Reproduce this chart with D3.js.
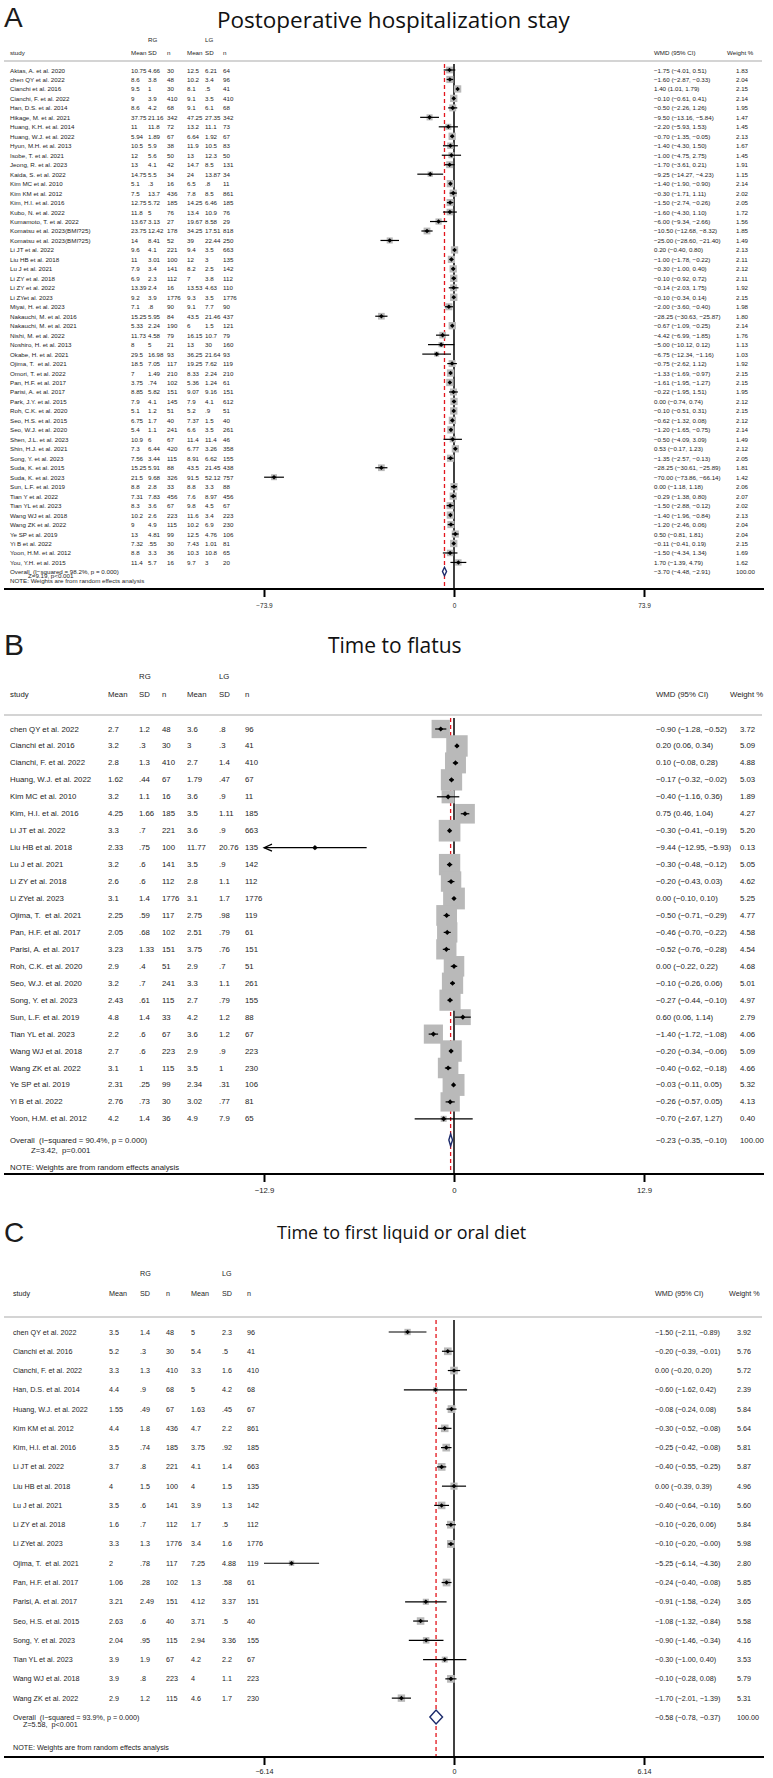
<!DOCTYPE html>
<html>
<head>
<meta charset="utf-8">
<script src="https://cdn.jsdelivr.net/npm/d3@7"></script>
<style>
    html, body { margin: 0; padding: 0; background: #fff; }
    svg text { font-family: "Liberation Sans", Arial, sans-serif; fill: #1c1c1c; }
    svg text.cell { dominant-baseline: central; white-space: pre; }
    svg text.ttl { font-family: "Open Sans", sans-serif; fill: #111; }
</style>
</head>
<body>
<div id="chart"></div>
<script>
// ---------- A: postoperative hospitalization stay ----------
const studiesA = ["Aktas, A. et al. 2020", "chen QY et al. 2022", "Cianchi et al. 2016", "Cianchi, F. et al. 2022",
    "Han, D.S. et al. 2014", "Hikage, M. et al. 2021", "Huang, K.H. et al. 2014", "Huang, W.J. et al. 2022",
    "Hyun, M.H. et al. 2013", "Isobe, T. et al. 2021", "Jeong, R. et al. 2023", "Kaida, S. et al. 2022",
    "Kim MC et al. 2010", "Kim KM et al. 2012", "Kim, H.I. et al. 2016", "Kubo, N. et al. 2022",
    "Kumamoto, T. et al. 2022", "Komatsu et al. 2023(BMI?25)", "Komatsu et al. 2023(BMI?25)", "Li JT et al. 2022",
    "Liu HB et al. 2018", "Lu J et al. 2021", "Li ZY et al. 2018", "Li ZY et al. 2022", "Li ZYet al. 2023",
    "Miyai, H. et al. 2023", "Nakauchi, M. et al. 2016", "Nakauchi, M. et al. 2021", "Nishi, M. et al. 2022",
    "Noshiro, H. et al. 2013", "Okabe, H. et al. 2021", "Ojima, T.  et al. 2021", "Omori, T. et al. 2022",
    "Pan, H.F. et al. 2017", "Parisi, A. et al. 2017", "Park, J.Y. et al. 2015", "Roh, C.K. et al. 2020",
    "Seo, H.S. et al. 2015", "Seo, W.J. et al. 2020", "Shen, J.L. et al. 2023", "Shin, H.J. et al. 2021",
    "Song, Y. et al. 2023", "Suda, K. et al. 2015", "Suda, K. et al. 2023", "Sun, L.F. et al. 2019",
    "Tian Y et al. 2022", "Tian YL et al. 2023", "Wang WJ et al. 2018", "Wang ZK et al. 2022",
    "Ye SP et al. 2019", "Yi B et al. 2022", "Yoon, H.M. et al. 2012", "You, Y.H. et al. 2015"];
const rgA = [["10.75","4.66","30"],["8.6","3.8","48"],["9.5","1","30"],["9","3.9","410"],["8.6","4.2","68"],
    ["37.75","21.16","342"],["11","11.8","72"],["5.94","1.89","67"],["10.5","5.9","38"],["12","5.6","50"],
    ["13","4.1","42"],["14.75","5.5","34"],["5.1",".3","16"],["7.5","13.7","436"],["12.75","5.72","185"],
    ["11.8","5","76"],["13.67","3.13","27"],["23.75","12.42","178"],["14","8.41","52"],["9.6","4.1","221"],
    ["11","3.01","100"],["7.9","3.4","141"],["6.9","2.3","112"],["13.39","2.4","16"],["9.2","3.9","1776"],
    ["7.1",".8","90"],["15.25","5.95","84"],["5.33","2.24","190"],["11.73","4.58","79"],["8","5","21"],
    ["29.5","16.98","93"],["18.5","7.05","117"],["7","1.49","210"],["3.75",".74","102"],["8.85","5.82","151"],
    ["7.9","4.1","145"],["5.1","1.2","51"],["6.75","1.7","40"],["5.4","1.1","241"],["10.9","6","67"],
    ["7.3","6.44","420"],["7.56","3.44","115"],["15.25","5.91","88"],["21.5","9.68","326"],["8.8","2.8","33"],
    ["7.31","7.83","456"],["8.3","3.6","67"],["10.2","2.6","223"],["9","4.9","115"],["13","4.81","99"],
    ["7.32",".55","30"],["8.8","3.3","36"],["11.4","5.7","16"]];
const lgA = [["12.5","6.21","64"],["10.2","3.4","96"],["8.1",".5","41"],["9.1","3.5","410"],["9.1","6.1","68"],
    ["47.25","27.35","342"],["13.2","11.1","73"],["6.64","1.92","67"],["11.9","10.5","83"],["13","12.3","50"],
    ["14.7","8.5","131"],["24","13.87","34"],["6.5",".8","11"],["7.8","8.5","861"],["14.25","6.46","185"],
    ["13.4","10.9","76"],["19.67","8.58","29"],["34.25","17.51","818"],["39","22.44","250"],["9.4","3.5","663"],
    ["12","3","135"],["8.2","2.5","142"],["7","3.8","112"],["13.53","4.63","110"],["9.3","3.5","1776"],
    ["9.1","7.7","90"],["43.5","21.46","437"],["6","1.5","121"],["16.15","10.7","79"],["13","30","160"],
    ["36.25","21.64","93"],["19.25","7.62","119"],["8.33","2.24","210"],["5.36","1.24","61"],["9.07","9.16","151"],
    ["7.9","4.1","612"],["5.2",".9","51"],["7.37","1.5","40"],["6.6","3.5","261"],["11.4","11.4","46"],
    ["6.77","3.26","358"],["8.91","6.62","155"],["43.5","21.45","438"],["91.5","52.12","757"],["8.8","3.3","88"],
    ["7.6","8.97","456"],["9.8","4.5","67"],["11.6","3.4","223"],["10.2","6.9","230"],["12.5","4.76","106"],
    ["7.43","1.01","81"],["10.3","10.8","65"],["9.7","3","20"]];
const wmdA = [-1.75,-1.60,1.40,-0.10,-0.50,-9.50,-2.20,-0.70,-1.40,-1.00,-1.70,-9.25,-1.40,-0.30,-1.50,-1.60,-6.00,
    -10.50,-25.00,0.20,-1.00,-0.30,-0.10,-0.14,-0.10,-2.00,-28.25,-0.67,-4.42,-5.00,-6.75,-0.75,-1.33,-1.61,-0.22,
    0.00,-0.10,-0.62,-1.20,-0.50,0.53,-1.35,-28.25,-70.00,0.00,-0.29,-1.50,-1.40,-1.20,0.50,-0.11,-1.50,1.70];
const loA = [-4.01,-2.87,1.01,-0.61,-2.26,-13.16,-5.93,-1.35,-4.30,-4.75,-3.61,-14.27,-1.90,-1.71,-2.74,-4.30,-9.34,
    -12.68,-28.60,-0.40,-1.78,-1.00,-0.92,-2.03,-0.34,-3.60,-30.63,-1.09,-6.99,-10.12,-12.34,-2.62,-1.69,-1.95,-1.95,
    -0.74,-0.51,-1.32,-1.65,-4.09,-0.17,-2.57,-30.61,-73.86,-1.18,-1.38,-2.88,-1.96,-2.46,-0.81,-0.41,-4.34,-1.39];
const hiA = [0.51,-0.33,1.79,0.41,1.26,-5.84,1.53,-0.05,1.50,2.75,0.21,-4.23,-0.90,1.11,-0.26,1.10,-2.66,
    -8.32,-21.40,0.80,-0.22,0.40,0.72,1.75,0.14,-0.40,-25.87,-0.25,-1.85,0.12,-1.16,1.12,-0.97,-1.27,1.51,
    0.74,0.31,0.08,-0.75,3.09,1.23,-0.13,-25.89,-66.14,1.18,0.80,-0.12,-0.84,0.06,1.81,0.19,1.34,4.79];
const weightA = [1.83,2.04,2.15,2.14,1.95,1.47,1.45,2.13,1.67,1.45,1.91,1.15,2.14,2.02,2.05,1.72,1.56,1.85,1.49,
    2.13,2.11,2.12,2.11,1.92,2.15,1.98,1.80,2.14,1.76,1.13,1.03,1.92,2.15,2.15,1.95,2.12,2.15,2.12,2.14,1.49,
    2.12,2.05,1.81,1.42,2.06,2.07,2.02,2.13,2.04,2.04,2.15,1.69,1.62];
const overallA = [-3.70, -4.48, -2.91];
const hetA = ["98.2%", "0.000", "Z=9.19, p<0.001"];
const ticksA = [-73.9, 0, 73.9];
const tickLabelsA = ["\u221273.9", "0", "73.9"];

// ---------- B: time to flatus ----------
const studiesB = ["chen QY et al. 2022", "Cianchi et al. 2016", "Cianchi, F. et al. 2022", "Huang, W.J. et al. 2022",
    "Kim MC et al. 2010", "Kim, H.I. et al. 2016", "Li JT et al. 2022", "Liu HB et al. 2018", "Lu J et al. 2021",
    "Li ZY et al. 2018", "Li ZYet al. 2023", "Ojima, T.  et al. 2021", "Pan, H.F. et al. 2017",
    "Parisi, A. et al. 2017", "Roh, C.K. et al. 2020", "Seo, W.J. et al. 2020", "Song, Y. et al. 2023",
    "Sun, L.F. et al. 2019", "Tian YL et al. 2023", "Wang WJ et al. 2018", "Wang ZK et al. 2022",
    "Ye SP et al. 2019", "Yi B et al. 2022", "Yoon, H.M. et al. 2012"];
const rgB = [["2.7","1.2","48"],["3.2",".3","30"],["2.8","1.3","410"],["1.62",".44","67"],["3.2","1.1","16"],
    ["4.25","1.66","185"],["3.3",".7","221"],["2.33",".75","100"],["3.2",".6","141"],["2.6",".6","112"],
    ["3.1","1.4","1776"],["2.25",".59","117"],["2.05",".68","102"],["3.23","1.33","151"],["2.9",".4","51"],
    ["3.2",".7","241"],["2.43",".61","115"],["4.8","1.4","33"],["2.2",".6","67"],["2.7",".6","223"],
    ["3.1","1","115"],["2.31",".25","99"],["2.76",".73","30"],["4.2","1.4","36"]];
const lgB = [["3.6",".8","96"],["3",".3","41"],["2.7","1.4","410"],["1.79",".47","67"],["3.6",".9","11"],
    ["3.5","1.11","185"],["3.6",".9","663"],["11.77","20.76","135"],["3.5",".9","142"],["2.8","1.1","112"],
    ["3.1","1.7","1776"],["2.75",".98","119"],["2.51",".79","61"],["3.75",".76","151"],["2.9",".7","51"],
    ["3.3","1.1","261"],["2.7",".79","155"],["4.2","1.2","88"],["3.6","1.2","67"],["2.9",".9","223"],
    ["3.5","1","230"],["2.34",".31","106"],["3.02",".77","81"],["4.9","7.9","65"]];
const wmdB = [-0.90,0.20,0.10,-0.17,-0.40,0.75,-0.30,-9.44,-0.30,-0.20,0.00,-0.50,-0.46,-0.52,0.00,-0.10,-0.27,
    0.60,-1.40,-0.20,-0.40,-0.03,-0.26,-0.70];
const loB = [-1.28,0.06,-0.08,-0.32,-1.16,0.46,-0.41,-12.95,-0.48,-0.43,-0.10,-0.71,-0.70,-0.76,-0.22,-0.26,-0.44,
    0.06,-1.72,-0.34,-0.62,-0.11,-0.57,-2.67];
const hiB = [-0.52,0.34,0.28,-0.02,0.36,1.04,-0.19,-5.93,-0.12,0.03,0.10,-0.29,-0.22,-0.28,0.22,0.06,-0.10,
    1.14,-1.08,-0.06,-0.18,0.05,0.05,1.27];
const weightB = [3.72,5.09,4.88,5.03,1.89,4.27,5.20,0.13,5.05,4.62,5.25,4.77,4.58,4.54,4.68,5.01,4.97,2.79,4.06,
    5.09,4.66,5.32,4.13,0.40];
const overallB = [-0.23, -0.35, -0.10];
const hetB = ["90.4%", "0.000", "Z=3.42,  p=0.001"];
const ticksB = [-12.9, 0, 12.9];
const tickLabelsB = ["\u221212.9", "0", "12.9"];

// ---------- C: time to first liquid or oral diet ----------
const studiesC = ["chen QY et al. 2022", "Cianchi et al. 2016", "Cianchi, F. et al. 2022", "Han, D.S. et al. 2014",
    "Huang, W.J. et al. 2022", "Kim KM et al. 2012", "Kim, H.I. et al. 2016", "Li JT et al. 2022",
    "Liu HB et al. 2018", "Lu J et al. 2021", "Li ZY et al. 2018", "Li ZYet al. 2023", "Ojima, T.  et al. 2021",
    "Pan, H.F. et al. 2017", "Parisi, A. et al. 2017", "Seo, H.S. et al. 2015", "Song, Y. et al. 2023",
    "Tian YL et al. 2023", "Wang WJ et al. 2018", "Wang ZK et al. 2022"];
const rgC = [["3.5","1.4","48"],["5.2",".3","30"],["3.3","1.3","410"],["4.4",".9","68"],["1.55",".49","67"],
    ["4.4","1.8","436"],["3.5",".74","185"],["3.7",".8","221"],["4","1.5","100"],["3.5",".6","141"],
    ["1.6",".7","112"],["3.3","1.3","1776"],["2",".78","117"],["1.06",".28","102"],["3.21","2.49","151"],
    ["2.63",".6","40"],["2.04",".95","115"],["3.9","1.9","67"],["3.9",".8","223"],["2.9","1.2","115"]];
const lgC = [["5","2.3","96"],["5.4",".5","41"],["3.3","1.6","410"],["5","4.2","68"],["1.63",".45","67"],
    ["4.7","2.2","861"],["3.75",".92","185"],["4.1","1.4","663"],["4","1.5","135"],["3.9","1.3","142"],
    ["1.7",".5","112"],["3.4","1.6","1776"],["7.25","4.88","119"],["1.3",".58","61"],["4.12","3.37","151"],
    ["3.71",".5","40"],["2.94","3.36","155"],["4.2","2.2","67"],["4","1.1","223"],["4.6","1.7","230"]];
const wmdC = [-1.50,-0.20,0.00,-0.60,-0.08,-0.30,-0.25,-0.40,0.00,-0.40,-0.10,-0.10,-5.25,-0.24,-0.91,-1.08,-0.90,
    -0.30,-0.10,-1.70];
const loC = [-2.11,-0.39,-0.20,-1.62,-0.24,-0.52,-0.42,-0.55,-0.39,-0.64,-0.26,-0.20,-6.14,-0.40,-1.58,-1.32,-1.46,
    -1.00,-0.28,-2.01];
const hiC = [-0.89,-0.01,0.20,0.42,0.08,-0.08,-0.08,-0.25,0.39,-0.16,0.06,-0,-4.36,-0.08,-0.24,-0.84,-0.34,
    0.40,0.08,-1.39];
const weightC = [3.92,5.76,5.72,2.39,5.84,5.64,5.81,5.87,4.96,5.60,5.84,5.98,2.80,5.85,3.65,5.58,4.16,3.53,5.79,5.31];
const overallC = [-0.58, -0.78, -0.37];
const hetC = ["93.9%", "0.000", "Z=5.58,  p<0.001"];
const ticksC = [-6.14, 0, 6.14];
const tickLabelsC = ["\u22126.14", "0", "6.14"];

const headers = ["study", "Mean", "SD", "n", "Mean", "SD", "n"];

// layout of each panel (pixel positions only)
const layoutA = { letterY: 27, letterSize: 28, titleX: 217, titleY: 28, titleSize: 20, titleWidth: 353,
    rgY: 39, headY: 52, lineY: 61, row0: 70, rowStep: 9.47, overallY: 571.5, zX: 28, zY: 575.5, noteY: 580.5,
    axisY: 589, tickY: 606, fs: 6.2, tfs: 6.5, cols: [10, 131, 148, 167, 187, 205, 223],
    wmdX: 654, wX: 736, wHeadX: 727, boxK: 5, dotR: 2.3, diaH: 4.2 };
const layoutB = { letterY: 655, letterSize: 30, titleX: 328, titleY: 653, titleSize: 21,
    rgY: 676, headY: 694, lineY: 715, row0: 729, rowStep: 16.95, overallY: 1140, zX: 31, zY: 1150, noteY: 1167,
    axisY: 1174, tickY: 1190, fs: 7.8, tfs: 7.8, cols: [10, 108, 139, 162, 187, 219, 245],
    wmdX: 656, wX: 740, wHeadX: 730, boxK: 9.5, dotR: 2.6, diaH: 6 };
const layoutC = { letterY: 1242, letterSize: 28, titleX: 277, titleY: 1239, titleSize: 18,
    rgY: 1273, headY: 1293, lineY: 1317, row0: 1332, rowStep: 19.27, overallY: 1717, zX: 23, zY: 1724, noteY: 1747,
    axisY: 1757, tickY: 1771, fs: 7.2, tfs: 7.2, cols: [13, 109, 140, 166, 191, 222, 247],
    wmdX: 655, wX: 737, wHeadX: 729, boxK: 3.2, dotR: 2.3, diaH: 7 };

const panels = [
    { letter: "A", title: "Postoperative hospitalization stay", studies: studiesA, rg: rgA, lg: lgA, wmd: wmdA,
        lo: loA, hi: hiA, weight: weightA, overall: overallA, het: hetA, ticks: ticksA, tickLabels: tickLabelsA, L: layoutA },
    { letter: "B", title: "Time to flatus", studies: studiesB, rg: rgB, lg: lgB, wmd: wmdB,
        lo: loB, hi: hiB, weight: weightB, overall: overallB, het: hetB, ticks: ticksB, tickLabels: tickLabelsB, L: layoutB },
    { letter: "C", title: "Time to first liquid or oral diet", studies: studiesC, rg: rgC, lg: lgC, wmd: wmdC,
        lo: loC, hi: hiC, weight: weightC, overall: overallC, het: hetC, ticks: ticksC, tickLabels: tickLabelsC, L: layoutC }
];

const W = 773, H = 1778;
const plotLeft = 264, plotRight = 644;

const fmt = v => (v < 0 || Object.is(v, -0) ? "\u2212" : "") + Math.abs(v).toFixed(2);
const ciText = (w, lo, hi) => `${fmt(w)} (${fmt(lo)}, ${fmt(hi)})`;

const svg = d3.select('#chart')
    .append('svg')
    .attr('width', W)
    .attr('height', H)
    .attr('viewBox', `0 0 ${W} ${H}`);

svg.append('rect').attr('width', W).attr('height', H).attr('fill', '#fff');

const drawPanel = (p) => {
    const L = p.L;
    const n = p.studies.length;
    const g = svg.append('g');
    const max = p.ticks[p.ticks.length - 1];

    const x = d3.scaleLinear().domain([-max, max]).range([plotLeft, plotRight]);
    const y = d3.scaleLinear().domain([0, n - 1]).range([L.row0, L.row0 + (n - 1) * L.rowStep]);

    // panel letter and title
    g.append('text').attr('x', 4).attr('y', L.letterY).attr('font-size', L.letterSize).attr('fill', '#000').text(p.letter);
    const t = g.append('text').attr('class', 'ttl').attr('x', L.titleX).attr('y', L.titleY)
        .attr('font-size', L.titleSize).text(p.title);
    if (L.titleWidth) {
        const len = t.node().getComputedTextLength();
        t.attr('font-size', L.titleSize * L.titleWidth / len);
    }

    // column headers
    const hdr = g.append('g').attr('font-size', L.fs);
    hdr.append('text').attr('class', 'cell').attr('x', L.cols[2]).attr('y', L.rgY).text('RG');
    hdr.append('text').attr('class', 'cell').attr('x', L.cols[5]).attr('y', L.rgY).text('LG');
    headers.forEach((h, i) => {
        hdr.append('text').attr('class', 'cell').attr('x', L.cols[i]).attr('y', L.headY).text(h);
    });
    hdr.append('text').attr('class', 'cell').attr('x', L.wmdX).attr('y', L.headY).text('WMD (95% CI)');
    hdr.append('text').attr('class', 'cell').attr('x', L.wHeadX).attr('y', L.headY).text('Weight %');

    g.append('line')
        .attr('x1', 4).attr('x2', 762)
        .attr('y1', L.lineY).attr('y2', L.lineY)
        .attr('stroke', '#c6c6c6').attr('stroke-width', 1.6);

    // null line and pooled-estimate line
    g.append('line')
        .attr('x1', x(0)).attr('x2', x(0))
        .attr('y1', L.lineY + 3).attr('y2', L.axisY)
        .attr('stroke', '#000').attr('stroke-width', 1.5);
    g.append('line')
        .attr('x1', x(p.overall[0])).attr('x2', x(p.overall[0]))
        .attr('y1', L.lineY + 3).attr('y2', L.axisY)
        .attr('stroke', '#e3141c').attr('stroke-width', 1.3).attr('stroke-dasharray', '4,3');

    // table rows
    const rows = g.append('g').attr('font-size', L.fs);
    p.studies.forEach((s, i) => {
        const cells = [s, ...p.rg[i], ...p.lg[i]];
        cells.forEach((c, j) => {
            rows.append('text').attr('class', 'cell').attr('x', L.cols[j]).attr('y', y(i)).text(c);
        });
        rows.append('text').attr('class', 'cell').attr('x', L.wmdX).attr('y', y(i))
            .text(ciText(p.wmd[i], p.lo[i], p.hi[i]));
        rows.append('text').attr('class', 'cell').attr('x', L.wX).attr('y', y(i)).text(p.weight[i].toFixed(2));
    });

    // study markers
    const marks = g.append('g');
    marks.selectAll('rect')
        .data(p.wmd)
        .enter().append('rect')
        .attr('x', (d, i) => x(d) - L.boxK * Math.sqrt(p.weight[i]) / 2)
        .attr('y', (d, i) => y(i) - L.boxK * Math.sqrt(p.weight[i]) / 2)
        .attr('width', (d, i) => L.boxK * Math.sqrt(p.weight[i]))
        .attr('height', (d, i) => L.boxK * Math.sqrt(p.weight[i]))
        .attr('fill', '#b9b9b9');

    marks.selectAll('line.ci')
        .data(p.wmd)
        .enter().append('line')
        .attr('class', 'ci')
        .attr('x1', (d, i) => x(Math.max(p.lo[i], -max)))
        .attr('x2', (d, i) => x(Math.min(p.hi[i], max)))
        .attr('y1', (d, i) => y(i)).attr('y2', (d, i) => y(i))
        .attr('stroke', '#000').attr('stroke-width', 1.2);

    // arrows where the interval runs off the scale
    p.lo.forEach((lo, i) => {
        if (lo < -max) {
            const ax = x(-max);
            marks.append('path')
                .attr('d', `M${ax + 8},${y(i) - 3.5}L${ax},${y(i)}L${ax + 8},${y(i) + 3.5}`)
                .attr('fill', 'none').attr('stroke', '#000').attr('stroke-width', 1.2);
        }
    });

    const r = L.dotR;
    marks.selectAll('path.dot')
        .data(p.wmd)
        .enter().append('path')
        .attr('class', 'dot')
        .attr('d', (d, i) => `M${x(d) - r},${y(i)}L${x(d)},${y(i) - r}L${x(d) + r},${y(i)}L${x(d)},${y(i) + r}Z`)
        .attr('fill', '#000');

    // pooled estimate
    const [ow, olo, ohi] = p.overall;
    const oy = L.overallY;
    g.append('path')
        .attr('d', `M${x(olo)},${oy}L${x(ow)},${oy - L.diaH}L${x(ohi)},${oy}L${x(ow)},${oy + L.diaH}Z`)
        .attr('fill', '#fff').attr('stroke', '#1b2a6b').attr('stroke-width', 1.4);

    const foot = g.append('g').attr('font-size', L.fs);
    foot.append('text').attr('class', 'cell').attr('x', L.cols[0]).attr('y', oy)
        .text(`Overall  (I\u2212squared = ${p.het[0]}, p = ${p.het[1]})`);
    foot.append('text').attr('class', 'cell').attr('x', L.zX).attr('y', L.zY).text(p.het[2]);
    foot.append('text').attr('class', 'cell').attr('x', L.cols[0]).attr('y', L.noteY)
        .text('NOTE: Weights are from random effects analysis');
    foot.append('text').attr('class', 'cell').attr('x', L.wmdX).attr('y', oy).text(ciText(ow, olo, ohi));
    foot.append('text').attr('class', 'cell').attr('x', L.wX).attr('y', oy).text('100.00');

    // x axis
    g.append('line')
        .attr('x1', 4).attr('x2', 764)
        .attr('y1', L.axisY).attr('y2', L.axisY)
        .attr('stroke', '#000').attr('stroke-width', 2);

    const axis = g.append('g')
        .attr('transform', `translate(0,${L.axisY})`)
        .call(d3.axisBottom(x)
            .tickValues(p.ticks)
            .tickSize(8)
            .tickFormat((d, i) => p.tickLabels[i]));
    axis.select('.domain').remove();
    axis.selectAll('.tick line').attr('stroke', '#000').attr('stroke-width', 2);
    axis.selectAll('.tick text')
        .attr('y', L.tickY - L.axisY)
        .attr('dy', '0.35em')
        .attr('font-size', L.tfs)
        .attr('font-family', '"Liberation Sans", Arial, sans-serif')
        .attr('fill', '#1c1c1c');
};

panels.forEach(drawPanel);
</script>
</body>
</html>
